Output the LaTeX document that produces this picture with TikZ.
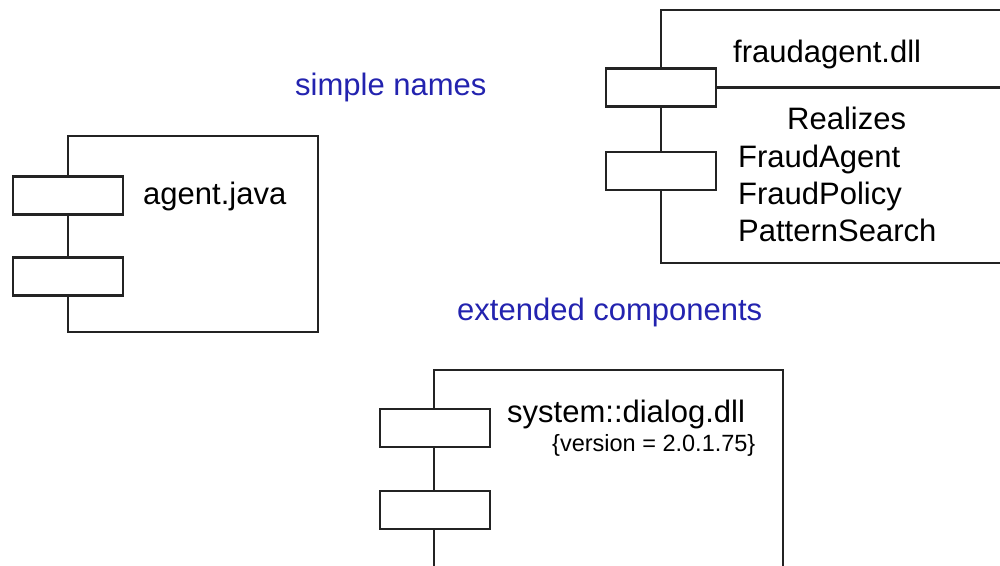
\documentclass[tikz,border=0pt]{standalone}
\usepackage{fontspec}
\setmainfont{Liberation Sans}
\definecolor{linec}{RGB}{35,35,35}
\definecolor{labelblue}{RGB}{35,35,175}
\begin{document}
\begin{tikzpicture}[x=1pt,y=-1pt,
  mainbox/.style={draw=linec, line width=2.4pt, fill=white, inner sep=0pt, rectangle},
  port/.style={draw=linec, line width=2.4pt, fill=white, inner sep=0pt, rectangle,
    minimum width=110pt, minimum height=38pt},
  txt/.style={inner sep=0pt, anchor=base west, text=black, font=\fontsize{31}{37}\selectfont},
  small/.style={inner sep=0pt, anchor=base west, text=black, font=\fontsize{23.5}{28}\selectfont},
  blue/.style={inner sep=0pt, anchor=base west, text=labelblue, font=\fontsize{31}{37}\selectfont}
]
\clip (0,0) rectangle (1000,565);
\fill[white] (0,0) rectangle (1000,565);

% component 1: agent.java
\node[mainbox, minimum width=250pt, minimum height=196pt] (c1) at (193,234) {};
\node[port] (p11) at (68,195.5) {};
\node[port] (p12) at (68,276.5) {};
\node[txt] (t1) at (143,204) {agent.java};

% component 2: fraudagent.dll
\node[mainbox, minimum width=349pt, minimum height=253pt] (c2) at (835.5,136.5) {};
\node[port] (p21) at (661,87.5) {};
\node[port] (p22) at (661,171) {};
\draw[draw=linec, line width=2.4pt] (p21.east) -- (p21.east -| c2.east);
\node[txt] (t2) at (733,62) {fraudagent.dll};
\node[txt] (r0) at (787,129) {Realizes};
\node[txt] (r1) at (738,167) {FraudAgent};
\node[txt] (r2) at (738,204) {FraudPolicy};
\node[txt] (r3) at (738,241) {PatternSearch};

% component 3: system::dialog.dll
\node[mainbox, minimum width=349pt, minimum height=220pt] (c3) at (608.5,480) {};
\node[port] (p31) at (435,428) {};
\node[port] (p32) at (435,510) {};
\node[txt] (t3) at (507,422) {system::dialog.dll};
\node[small] (v3) at (552,451) {\{version = 2.0.1.75\}};

% labels
\node[blue] (l1) at (295,95) {simple names};
\node[blue] (l2) at (457,320) {extended components};
\end{tikzpicture}
\end{document}
